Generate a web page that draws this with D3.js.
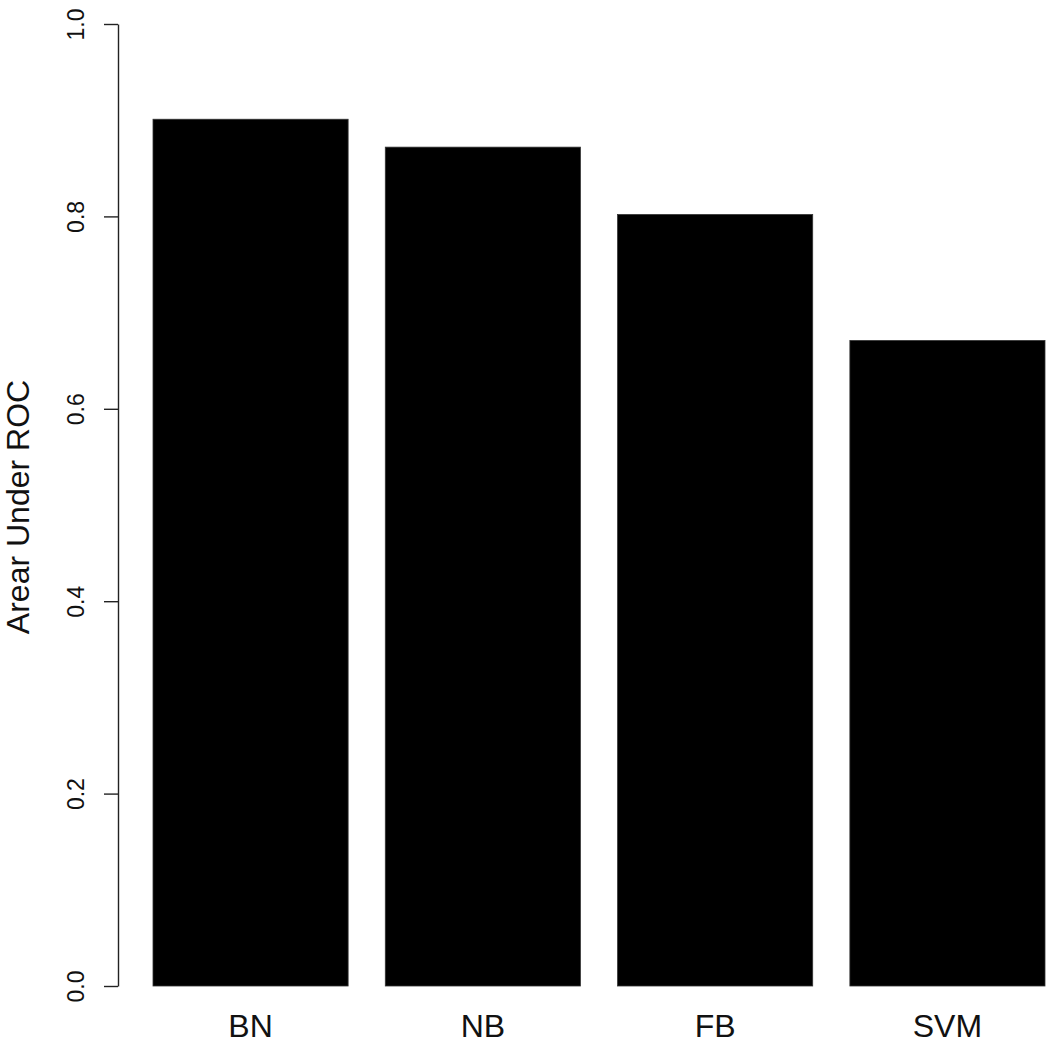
<!DOCTYPE html>
<html>
<head>
<meta charset="utf-8">
<script src="https://cdn.jsdelivr.net/npm/d3@7"></script>
<style>
  body { margin: 0; background: #fff; }
  svg { display: block; font-family: "Liberation Sans", Arial, sans-serif; }
</style>
</head>
<body>
<svg id="canvas"></svg>
<script>
const width = 1050;
const height = 1050;

// valori
const categories = ["BN", "NB", "FB", "SVM"];
const auc = [0.901, 0.872, 0.802, 0.671];
const yTicks = [0, 0.2, 0.4, 0.6, 0.8, 1.0];
const yLabel = "Arear Under ROC";

const svg = d3.select("#canvas")
  .attr("width", width)
  .attr("height", height);

const x = d3.scaleBand()
  .domain(categories)
  .range([153, 1045])
  .paddingInner(0.16)
  .paddingOuter(0);

const y = d3.scaleLinear()
  .domain([0, 1])
  .range([986, 24]);

// barre
svg.append("g")
  .selectAll("rect")
  .data(categories)
  .enter()
  .append("rect")
  .attr("x", d => x(d))
  .attr("width", x.bandwidth())
  .attr("y", (d, i) => y(auc[i]))
  .attr("height", (d, i) => y(0) - y(auc[i]))
  .attr("fill", "black")
  .attr("stroke", "#333")
  .attr("stroke-width", 0.8);

// asse y
const yAxis = svg.append("g")
  .attr("transform", "translate(118,0)")
  .call(d3.axisLeft(y)
    .tickValues(yTicks)
    .tickFormat(d3.format(".1f"))
    .tickSize(14)
    .tickSizeOuter(0));

yAxis.selectAll("path, line")
  .attr("stroke", "#222")
  .attr("stroke-width", 1.4);

yAxis.selectAll("text")
  .attr("x", null)
  .attr("dy", null)
  .attr("text-anchor", "middle")
  .attr("transform", "translate(-34,0) rotate(-90)")
  .attr("font-size", 23)
  .attr("font-family", "Liberation Sans, Arial, sans-serif")
  .attr("fill", "#111");

// etichette categorie
svg.append("g")
  .selectAll("text")
  .data(categories)
  .enter()
  .append("text")
  .attr("x", d => x(d) + x.bandwidth() / 2)
  .attr("y", 1037)
  .attr("text-anchor", "middle")
  .attr("font-size", 32)
  .attr("fill", "#111")
  .text(d => d);

// titolo asse y
svg.append("text")
  .attr("transform", "translate(29,507) rotate(-90)")
  .attr("text-anchor", "middle")
  .attr("font-size", 32)
  .attr("fill", "#111")
  .text(yLabel);
</script>
</body>
</html>
